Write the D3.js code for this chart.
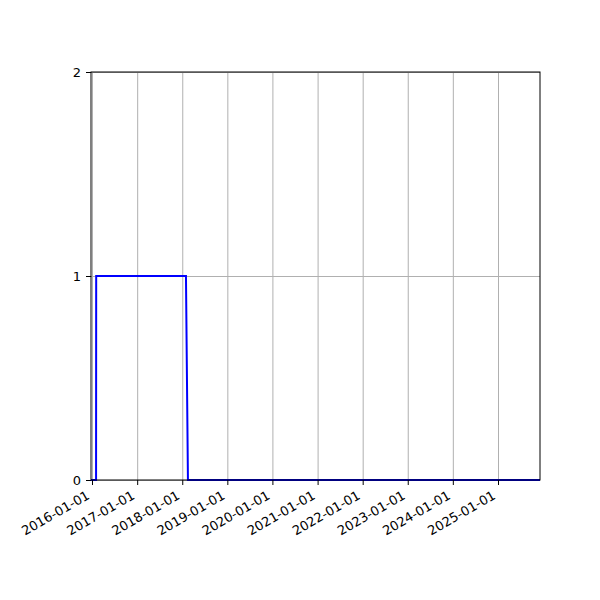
<!DOCTYPE html>
<html>
<head>
<meta charset="utf-8">
<script src="https://cdn.jsdelivr.net/npm/d3@7"></script>
<style>
  body { margin: 0; background: #fff; }
  .tick text { font: 13px "DejaVu Sans", sans-serif; fill: #000; }
  .grid line { stroke: #b0b0b0; stroke-width: 1; }
  .grid .domain { display: none; }
</style>
</head>
<body>
<svg width="600" height="600"></svg>
<script>
// step series
const dates = ["2015-12-24", "2016-02-03", "2016-02-04", "2018-01-31", "2018-02-16", "2025-12-07"];
const values = [0, 0, 1, 1, 0, 0];
const yTicks = [0, 1, 2];
const xTickYears = [2016, 2017, 2018, 2019, 2020, 2021, 2022, 2023, 2024, 2025];

const parse = d3.timeParse("%Y-%m-%d");
const data = dates.map((d, i) => ({ date: parse(d), value: values[i] }));

const svg = d3.select("svg");
const margin = { left: 91, right: 60, top: 72, bottom: 120 };
const width = 600 - margin.left - margin.right,
  height = 600 - margin.top - margin.bottom;

const x = d3.scaleTime()
  .domain([parse("2015-12-24"), parse("2025-12-07")])
  .range([0, width]);
const y = d3.scaleLinear().domain([0, 2]).range([height, 0]);

const g = svg.append("g").attr("transform", `translate(${margin.left},${margin.top})`);

const xTicks = xTickYears.map(yr => new Date(yr, 0, 1));

// grid
g.append("g").attr("class", "grid")
  .call(d3.axisBottom(x).tickValues(xTicks).tickSize(height).tickFormat(""));
g.append("g").attr("class", "grid")
  .call(d3.axisLeft(y).tickValues(yTicks).tickSize(-width).tickFormat(""));

// line
const line = d3.line().x(d => x(d.date)).y(d => y(d.value));
g.append("path").datum(data)
  .attr("fill", "none")
  .attr("stroke", "#0000ff")
  .attr("stroke-width", 2)
  .attr("d", line);

// frame
g.append("rect").attr("width", width).attr("height", height)
  .attr("fill", "none").attr("stroke", "#000").attr("stroke-width", 1);

// axes
const xa = g.append("g").attr("transform", `translate(0,${height})`)
  .call(d3.axisBottom(x).tickValues(xTicks).tickSize(5)
    .tickFormat(d3.timeFormat("%Y-%m-%d")));
xa.select(".domain").remove();
xa.selectAll(".tick line").attr("stroke", "#000");
xa.selectAll("text")
  .attr("text-anchor", "end")
  .attr("dy", 0)
  .attr("y", 0).attr("x", 0)
  .attr("transform", "translate(-2,18) rotate(-30)");

const ya = g.append("g")
  .call(d3.axisLeft(y).tickValues(yTicks).tickSize(5).tickPadding(5).tickFormat(d3.format("d")));
ya.select(".domain").remove();
ya.selectAll(".tick line").attr("stroke", "#000");
</script>
</body>
</html>
